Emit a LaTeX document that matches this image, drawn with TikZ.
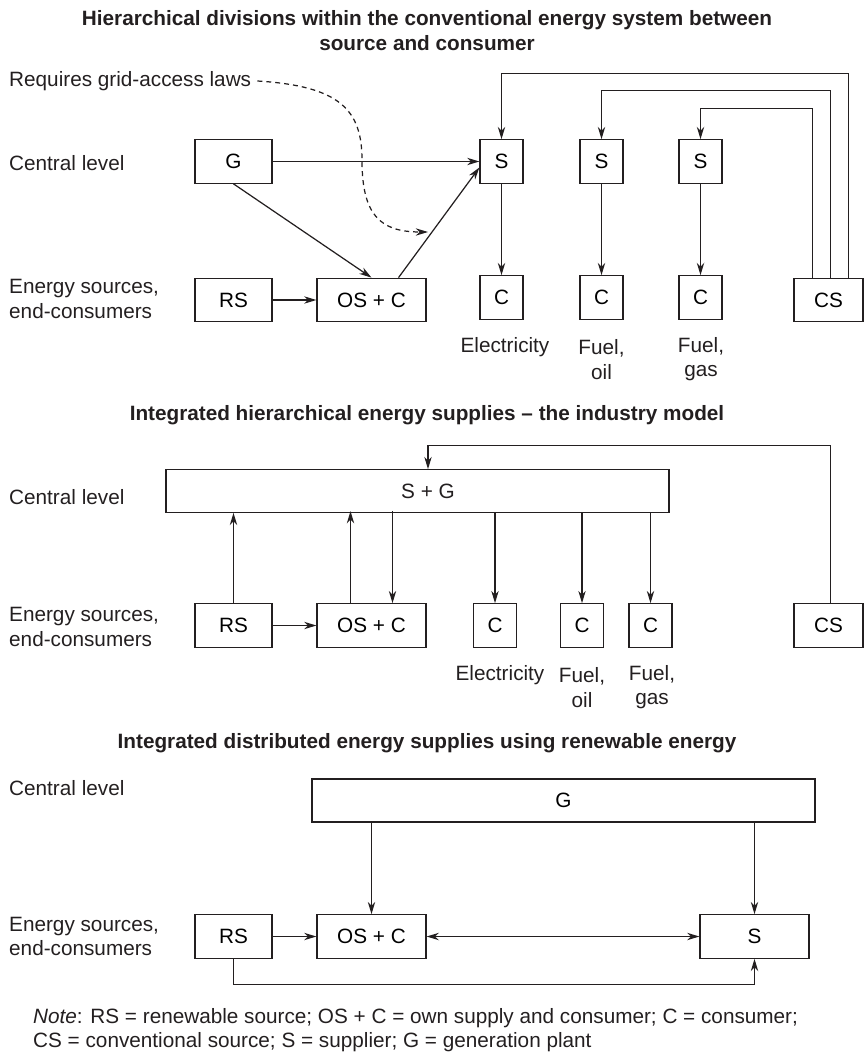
\documentclass[tikz,border=0pt]{standalone}
\usepackage{fontspec}
\setmainfont{Liberation Sans}
\usepackage{tikz}
\usetikzlibrary{positioning,calc,arrows.meta}
\definecolor{InkBlack}{RGB}{35,31,32}
\tikzset{box/.style={draw=InkBlack,line width=0.7pt,inner sep=0pt,minimum height=0.87cm},
	sqbox/.style={box,minimum width=0.86cm},
	gbox/.style={box,minimum width=1.54cm},
	osbox/.style={box,minimum width=2.18cm},
	csbox/.style={box,minimum width=1.38cm},
	widebox/.style={box,minimum width=10.06cm,minimum height=0.85cm},
	lvl/.style={anchor=west,align=left,text=InkBlack},
	caption/.style={align=center,text=InkBlack},
	ttl/.style={align=center,text=InkBlack,font=\fontsize{11.8}{14.2}\selectfont\bfseries},
	flow/.style={->,line width=0.7pt,draw=InkBlack}}

\begin{document}
\begin{tikzpicture}[x=0.02cm,y=-0.02cm,>={Stealth[length=7pt,width=4.2pt]},font=\fontsize{11.8}{13.8}\selectfont]
	\useasboundingbox (0,0) rectangle (864,1054);
	\node[ttl] (titleA) at (427,30.5) {Hierarchical divisions within the conventional energy system between\\source and consumer};
	\node[lvl] (req) at (3,81) {Requires grid-access laws};
	\node[lvl] (centralA) at (3,163) {Central level};
	\node[lvl] (sourcesA) at (3,299) {Energy sources,\\end-consumers};
	\node[gbox] (gA) at (233.5,161.5) {G};
	\node[gbox] (rsA) at (233.5,300) {RS};
	\node[osbox] (oscA) at (371.5,300) {OS + C};
	\node[csbox] (csA) at (828.5,300) {CS};
	\foreach \i/\x in {1/501.5,2/601.5,3/700.5}{
		\node[sqbox] (sA\i) at (\x,161.5) {S};
		\node[sqbox] (cA\i) at (\x,297.5) {C};
		\draw[flow] (sA\i) -- (cA\i);
	}
	\node[caption] (elecA) at (505,347) {Electricity};
	\node[caption] (oilA) at (601.5,359.5) {Fuel,\\oil};
	\node[caption] (gasA) at (701,359.5) {Fuel,\\gas};
	\draw[flow] (gA) -- (sA1);
	\draw[flow] (gA.south) -- (oscA.north);
	\draw[flow] ($(oscA.north)+(27,0)$) -- ($(sA1.west)+(0,6)$);
	\draw[flow] (rsA) -- (oscA);
	\coordinate (reqend) at (428,232);
	\draw[flow,dash pattern=on 2.8pt off 2.3pt] (req.east) .. controls (340,86) and (362,110) .. (362,160) .. controls (362,215) and (380,232) .. (reqend);
	\draw[flow] ($(csA.north west)+(55,0)$) -- ++(0,-204) -| (sA1.north);
	\draw[flow] ($(csA.north west)+(37,0)$) -- ++(0,-187) -| (sA2.north);
	\draw[flow] ($(csA.north west)+(19,0)$) -- ++(0,-169) -| (sA3.north);

	\node[ttl] (titleB) at (427,415) {Integrated hierarchical energy supplies -- the industry model};
	\node[lvl] (centralB) at (3,497) {Central level};
	\node[lvl] (sourcesB) at (3,627) {Energy sources,\\end-consumers};
	\node[widebox] (sgB) at (417.5,491) {};
	\node[caption] (sgtext) at (428,491) {S + G};
	\node[gbox] (rsB) at (233.5,625.5) {RS};
	\node[osbox] (oscB) at (371.5,625.5) {OS + C};
	\node[csbox] (csB) at (828.5,625.5) {CS};
	\foreach \i/\x in {1/495,2/582,3/650.5}{
		\node[sqbox] (cB\i) at (\x,625.5) {C};
		\draw[flow] (cB\i.north |- sgB.south) -- (cB\i.north);
	}
	\node[caption] (elecB) at (500,675) {Electricity};
	\node[caption] (oilB) at (582,687.5) {Fuel,\\oil};
	\node[caption] (gasB) at (652,687.5) {Fuel,\\gas};
	\draw[flow] (rsB.north) -- (rsB.north |- sgB.south);
	\draw[flow] ($(oscB.north)+(-21,0)$) -- ($(oscB.north)+(-21,-92)$);
	\draw[flow] ($(oscB.north)+(21,-92)$) -- ($(oscB.north)+(21,0)$);
	\draw[flow] (rsB) -- (oscB);
	\draw[flow] ($(csB.north west)+(37,0)$) -- ++(0,-158) -| ($(sgB.north)+(10.5,0)$);

	\node[ttl] (titleC) at (427,743) {Integrated distributed energy supplies using renewable energy};
	\node[lvl] (centralC) at (3,788) {Central level};
	\node[lvl] (sourcesC) at (3,936.5) {Energy sources,\\end-consumers};
	\node[widebox,minimum height=0.86cm] (gC) at (563.5,800.5) {G};
	\node[gbox] (rsC) at (233.5,936.5) {RS};
	\node[osbox] (oscC) at (371.5,936.5) {OS + C};
	\node[osbox] (sC) at (754.5,936.5) {S};
	\draw[flow] (oscC.north |- gC.south) -- (oscC.north);
	\draw[flow] (sC.north |- gC.south) -- (sC.north);
	\draw[flow] (rsC) -- (oscC);
	\draw[flow,<->] (oscC) -- (sC);
	\draw[flow] (rsC.south) -- ++(0,26) -| (sC.south);

	\node[lvl] (note) at (27,1030) {\textit{Note}: RS = renewable source; OS + C = own supply and consumer; C = consumer;\\CS = conventional source; S = supplier; G = generation plant};
\end{tikzpicture}
\end{document}
